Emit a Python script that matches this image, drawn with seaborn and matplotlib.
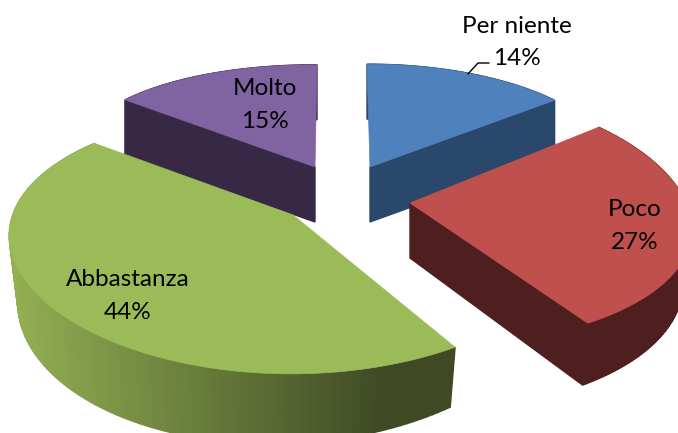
import numpy as np
import matplotlib
matplotlib.use("Agg")
import matplotlib.pyplot as plt
from matplotlib.colors import to_rgb
from matplotlib.patches import Polygon
import seaborn as sns

categories = ["Per niente", "Poco", "Abbastanza", "Molto"]
values = [14, 27, 44, 15]

sns.set_theme(style="white")
plt.rcParams['font.family'] = ['Lato', 'DejaVu Sans']
top_colors = sns.color_palette(["#4F81BD", "#C0504D", "#9BBB59", "#8064A2"])
wall_left = ["#29486C", "#4E1F1E", "#93AF53", "#372945"]
wall_right = ["#29486C", "#4E1F1E", "#3F4A24", "#372945"]
face_colors = ["#29486C", "#4E1F1E", "#3F4A24", "#372945"]

# per slice view geometry: apex x, y, rx, ry, kx, ky, skew x, tilt y, x shrink of lower rim,
# rim depth terms d0, d1, d2 and the depth at the apex
geom = {
    "Per niente": (370, 167, 245, 108, 0.02, 0.05, -3, 0, 1.0, 55, 0, 0, 55),
    "Poco": (410, 203, 276, 128, 0.20, 0.12, 0, 0, 0.97, 50, 14, 0, 55),
    "Abbastanza": (293, 215, 278, 127, 0.16, 0.20, 12, 6, 0.97, 50, 20, -13, 60),
    "Molto": (315, 167, 250, 137, 0.10, 0.34, 2, 0, 1.0, 55, 0, 0, 55),
}
label_pos = {
    "Per niente": (517, 42.5),
    "Poco": (635, 226),
    "Abbastanza": (128, 296),
    "Molto": (265, 105),
}
draw_order = ["Per niente", "Molto", "Poco", "Abbastanza"]

fig = plt.figure(figsize=(6.78, 4.33), dpi=100)
ax = fig.add_axes([0, 0, 1, 1])
ax.set_xlim(0, 678)
ax.set_ylim(433, 0)
ax.axis("off")

edges = np.concatenate([[0], np.cumsum(values)]) / np.sum(values) * 2 * np.pi


def arc(name, th, lower=False):
    x0, y0, rx, ry, kx, ky, sk, tl, shrink, d0, d1, d2, _ = geom[name]
    u, v = np.sin(th), np.cos(th)
    f = shrink if lower else 1.0
    x = x0 + f * (rx * u / (1 + kx * v) + sk * v)
    y = y0 - ry * v / (1 + ky * v) + tl * u
    if lower:
        y = y + d0 - d1 * v + d2 * u
    return np.column_stack([x, y])


for name in draw_order:
    i = categories.index(name)
    x0, y0 = geom[name][:2]
    da = geom[name][-1]
    th = np.linspace(edges[i], edges[i + 1], 121)
    up = arc(name, th)
    lo = arc(name, th, lower=True)
    cl, cr = np.array(to_rgb(wall_left[i])), np.array(to_rgb(wall_right[i]))
    xmin, xmax = up[:, 0].min(), up[:, 0].max()
    for j in range(len(th) - 1):
        t = ((up[j, 0] + up[j + 1, 0]) / 2 - xmin) / (0.84 * (xmax - xmin))
        c = cl + (cr - cl) * min(t, 1.0)
        quad = [up[j], up[j + 1], lo[j + 1], lo[j]]
        ax.add_patch(Polygon(quad, closed=True, fc=c, ec=c, lw=1.0))
    # cut face that looks toward the viewer
    if name in ("Per niente", "Poco"):
        face = [(x0, y0), up[-1], lo[-1], (x0, y0 + da)]
    elif name == "Molto":
        face = [(x0, y0), up[0], lo[0], (x0, y0 + da)]
    else:
        face = None
    if face is not None:
        ax.add_patch(Polygon(face, closed=True, fc=face_colors[i], ec=face_colors[i], lw=1.0))
    ax.add_patch(Polygon(np.vstack([[(x0, y0)], up]), closed=True,
                         fc=top_colors[i], ec=top_colors[i], lw=0.5))

for name, val in zip(categories, values):
    x, y = label_pos[name]
    ax.text(x, y, f"{name}\n{val}%", ha="center", va="center", fontsize=17.5,
            color="black", linespacing=1.7)

ax.plot([468, 478, 489], [74, 63, 63], color="black", lw=1.0)
fig.savefig("out.png", dpi=100)
